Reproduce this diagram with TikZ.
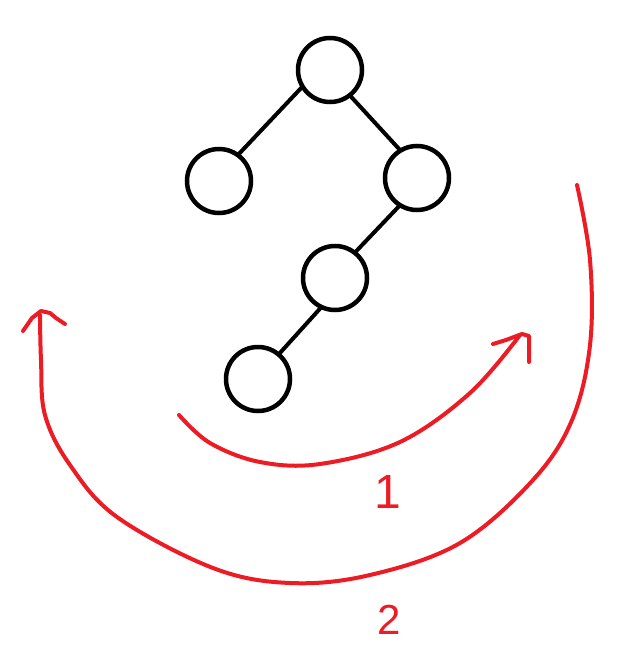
\documentclass[tikz,border=0pt]{standalone}
\usepackage{fontspec}
\newfontfamily\labelfont{Liberation Sans}
\definecolor{paintred}{HTML}{ED1C24}
\tikzset{
  treenode/.style={circle, draw=black, line width=4.5pt, minimum size=64pt, inner sep=0pt, outer sep=0pt},
  treeedge/.style={draw=black, line width=4pt},
  redstroke/.style={draw=paintred, line width=4pt, line cap=round, line join=round},
  redlabel/.style={text=paintred, inner sep=0pt, font=\labelfont}
}
\begin{document}
\begin{tikzpicture}[x=1pt,y=-1pt]
\useasboundingbox[fill=white] (0,0) rectangle (639,661);
% tree
\node[treenode] (root) at (330,70) {};
\node[treenode] (left) at (219,181) {};
\node[treenode] (right) at (417,178) {};
\node[treenode] (mid) at (335,278) {};
\node[treenode] (bot) at (258,379) {};
\draw[treeedge] (root.211) -- (left.54);
\draw[treeedge] (root.308) -- (right.121);
\draw[treeedge] (right.238) -- (mid.52);
\draw[treeedge] (mid.245) -- (bot.50);
% arrow 1
\coordinate (a1s) at (179,415);
\coordinate (a1e) at (520,335);
\draw[redstroke] plot[smooth, tension=0.6] coordinates {(179,415) (210,443) (260,462) (320,464) (400,442) (470,393) (520,335)};
\draw[redstroke] (493,344) -- (506,340) -- (522,334) -- (529,336) -- (529,362);
\node[redlabel, font=\labelfont\fontsize{48}{48}\selectfont] (one) at (388,492) {1};
% arrow 2
\coordinate (a2s) at (577,185);
\coordinate (a2e) at (40,315);
\draw[redstroke] plot[smooth, tension=0.6] coordinates {(577,185) (590,260) (590,345) (572,420) (533,480) (460,543) (370,575) (290,583) (213,568) (117,517) (70,465) (45,415) (41,360) (40,315)};
\draw[redstroke] (23,331) -- (32,318) -- (41,311) -- (50,313) -- (56,318) -- (65,324);
\node[redlabel, font=\labelfont\fontsize{42}{42}\selectfont] (two) at (389,620) {2};
\end{tikzpicture}
\end{document}
